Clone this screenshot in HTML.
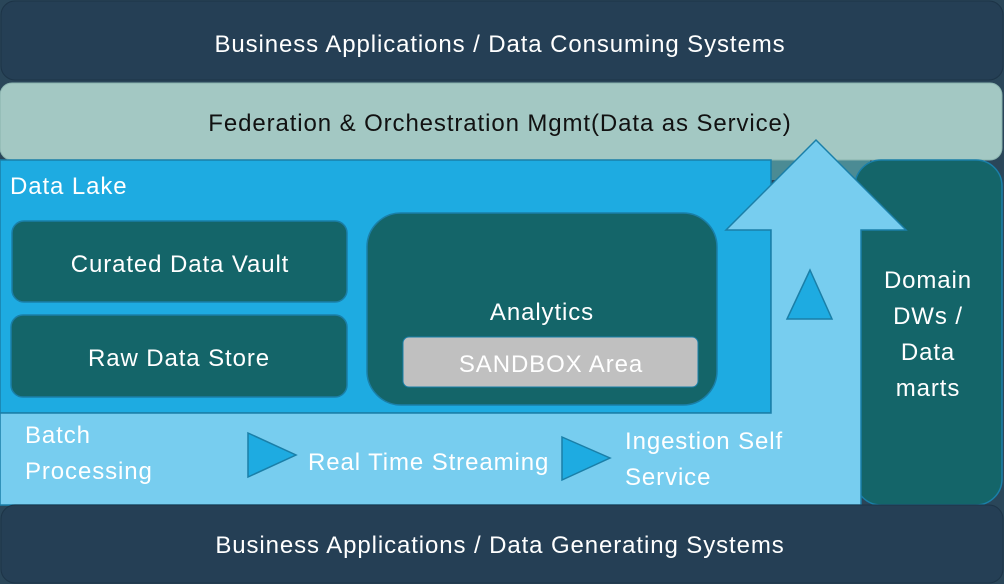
<!DOCTYPE html>
<html><head><style>
body{margin:0;width:1004px;height:584px;overflow:hidden;background:#2a4659}
svg{display:block}
text{font-family:"Liberation Sans",sans-serif;fill:#fff;font-size:24px;letter-spacing:0.9px}
</style></head><body>
<svg width="1004" height="584" viewBox="0 0 1004 584">
<rect x="0" y="0" width="1004" height="584" fill="#2a4659"/>
<rect x="1" y="1" width="1002" height="79" rx="14" fill="#253f55" stroke="#1d3447"/>
<text x="500" y="52" text-anchor="middle">Business Applications / Data Consuming Systems</text>
<rect x="760" y="150" width="110" height="30" fill="#4b8b94"/>
<rect x="0" y="83" width="1002" height="77" rx="12" fill="#a3c8c3" stroke="#8ab3ae"/>
<text x="500" y="131" text-anchor="middle" style="fill:#111">Federation &amp; Orchestration Mgmt(Data as Service)</text>
<rect x="855" y="160" width="147" height="345" rx="26" fill="#146569" stroke="#1a7fa8" stroke-width="1.5"/>
<rect x="0" y="160" width="771" height="253" fill="#1eabe1" stroke="#1a7fa8" stroke-width="1.5"/>
<text x="10" y="194">Data Lake</text>
<rect x="12" y="221" width="335" height="81" rx="12" fill="#146569" stroke="#1a7fa8" stroke-width="1.5"/>
<text x="180" y="272" text-anchor="middle">Curated Data Vault</text>
<rect x="11" y="315" width="336" height="82" rx="12" fill="#146569" stroke="#1a7fa8" stroke-width="1.5"/>
<text x="179" y="366" text-anchor="middle">Raw Data Store</text>
<rect x="367" y="213" width="350" height="192" rx="34" fill="#146569" stroke="#1a7fa8" stroke-width="1.5"/>
<text x="542" y="320" text-anchor="middle">Analytics</text>
<rect x="403" y="337" width="295" height="50" rx="6" fill="#c0c0c0" stroke="#1a7fa8"/>
<text x="551" y="372" text-anchor="middle">SANDBOX Area</text>
<polygon points="0,413 771,413 771,230 726,230 816,140 906,230 861,230 861,505 0,505" fill="#77cdef" stroke="#1a7fa8" stroke-width="1.5"/>
<polygon points="810,270 787,319 832,319" fill="#1eabe1" stroke="#1a7fa8" stroke-width="1.5"/>
<polygon points="248,433 296,455 248,477" fill="#1eabe1" stroke="#1a7fa8" stroke-width="1.5"/>
<polygon points="562,437 610,458 562,480" fill="#1eabe1" stroke="#1a7fa8" stroke-width="1.5"/>
<text x="25" y="443">Batch</text>
<text x="25" y="479">Processing</text>
<text x="308" y="470">Real Time Streaming</text>
<text x="625" y="449">Ingestion Self</text>
<text x="625" y="485">Service</text>
<text x="928" y="288" text-anchor="middle">Domain</text>
<text x="928" y="324" text-anchor="middle">DWs /</text>
<text x="928" y="360" text-anchor="middle">Data</text>
<text x="928" y="396" text-anchor="middle">marts</text>
<rect x="1" y="505" width="1002" height="78" rx="14" fill="#253f55" stroke="#1d3447"/>
<text x="500" y="553" text-anchor="middle">Business Applications / Data Generating Systems</text>
</svg>
</body></html>
